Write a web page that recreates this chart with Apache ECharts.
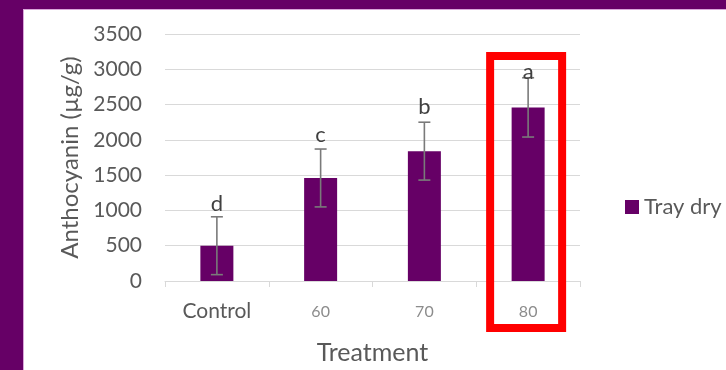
<!DOCTYPE html>
<html><head><meta charset="utf-8">
<script src="https://cdn.jsdelivr.net/npm/echarts@6/dist/echarts.min.js"></script>
<style>
html,body{margin:0;padding:0;width:726px;height:370px;overflow:hidden;background:#660066;}
#wrap{position:absolute;left:23px;top:9px;width:703px;height:361px;background:#fff;border-left:1px solid #d9a6d9;border-top:1px solid #d9a6d9;box-sizing:border-box;}
#chart{position:absolute;left:0;top:0;width:702px;height:360px;}
</style></head>
<body><div id="wrap"><div id="chart"></div></div>
<script>
const categories = ['Control', '60', '70', '80'];
const values = [500, 1460, 1840, 2460];
const errors = [410, 410, 410, 420];
const letters = ['d', 'c', 'b', 'a'];
const letterValues = [930, 1910, 2310, 2800];
const highlightIndex = 3;
const yTicks = [0, 500, 1000, 1500, 2000, 2500, 3000, 3500];

const FONT = 'Lato, "Liberation Sans", sans-serif';
const chart = echarts.init(document.getElementById('chart'));

const catData = categories.map((c, i) => i === 0
  ? { value: c, textStyle: { fontSize: 21, color: '#595959', padding: [1, 0, 0, 0] } }
  : { value: c, textStyle: { fontSize: 16, color: '#8c8c8c', padding: [4, 0, 0, 0] } });

chart.setOption({
  animation: false,
  textStyle: { fontFamily: FONT },
  grid: { left: 141, right: 146, top: 24, bottom: 87 },
  legend: {
    left: 596, top: 181, itemWidth: 14, itemHeight: 14, itemGap: 5,
    icon: 'rect',
    textStyle: { fontSize: 22, color: '#595959', fontFamily: FONT, padding: [0,0,0,0] },
    data: ['Tray dry']
  },
  xAxis: {
    type: 'category', data: catData,
    name: 'Treatment', nameLocation: 'middle', nameGap: 59,
    nameTextStyle: { fontSize: 25, color: '#595959', fontFamily: FONT },
    axisLine: { lineStyle: { color: '#d9d9d9', width: 1 } },
    axisTick: { show: true, length: 6, lineStyle: { color: '#d9d9d9' } },
    axisLabel: { margin: 19, fontFamily: FONT }
  },
  yAxis: {
    type: 'value', min: yTicks[0], max: yTicks[yTicks.length - 1], interval: 500,
    name: 'Anthocyanin (µg/g)', nameLocation: 'middle', nameGap: 80,
    nameTextStyle: { fontSize: 24, color: '#595959', fontFamily: FONT },
    axisLine: { show: false }, axisTick: { show: false },
    axisLabel: { fontSize: 21, color: '#595959', margin: 23, fontFamily: FONT, formatter: v => String(v) },
    splitLine: { lineStyle: { color: '#d9d9d9', width: 1 } }
  },
  series: [
    {
      name: 'Tray dry', type: 'bar', data: values, barWidth: 33,
      itemStyle: { color: '#660066' }
    },
    {
      type: 'custom', name: 'err', silent: true, z: 5,
      data: categories.map((c, i) => [i, values[i] - errors[i], values[i] + errors[i], letterValues[i]]),
      renderItem: function (params, api) {
        const i = api.value(0);
        const lo = api.coord([i, api.value(1)]);
        const hi = api.coord([i, api.value(2)]);
        const lt = api.coord([i, api.value(3)]);
        const cap = 6;
        const st = { stroke: '#7a7a7a', lineWidth: 1.6 };
        const children = [
          { type: 'line', shape: { x1: hi[0], y1: hi[1], x2: lo[0], y2: lo[1] }, style: st },
          { type: 'line', shape: { x1: hi[0] - cap, y1: hi[1], x2: hi[0] + cap, y2: hi[1] }, style: st },
          { type: 'line', shape: { x1: lo[0] - cap, y1: lo[1], x2: lo[0] + cap, y2: lo[1] }, style: st },
          { type: 'text', x: lt[0], y: lt[1], style: { text: letters[params.dataIndex], fill: '#404040', font: '22px ' + FONT, align: 'center', verticalAlign: 'bottom' } }
        ];
        if (params.dataIndex === highlightIndex) {
          const top = api.coord([i, 3190]);
          const base = api.coord([i, 0]);
          children.push({ type: 'rect', shape: { x: top[0] - 38, y: top[1], width: 72, height: base[1] + 47 - top[1] },
            style: { fill: 'none', stroke: '#ff0000', lineWidth: 8 } });
        }
        return { type: 'group', children: children };
      }
    }
  ]
});
</script></body></html>
